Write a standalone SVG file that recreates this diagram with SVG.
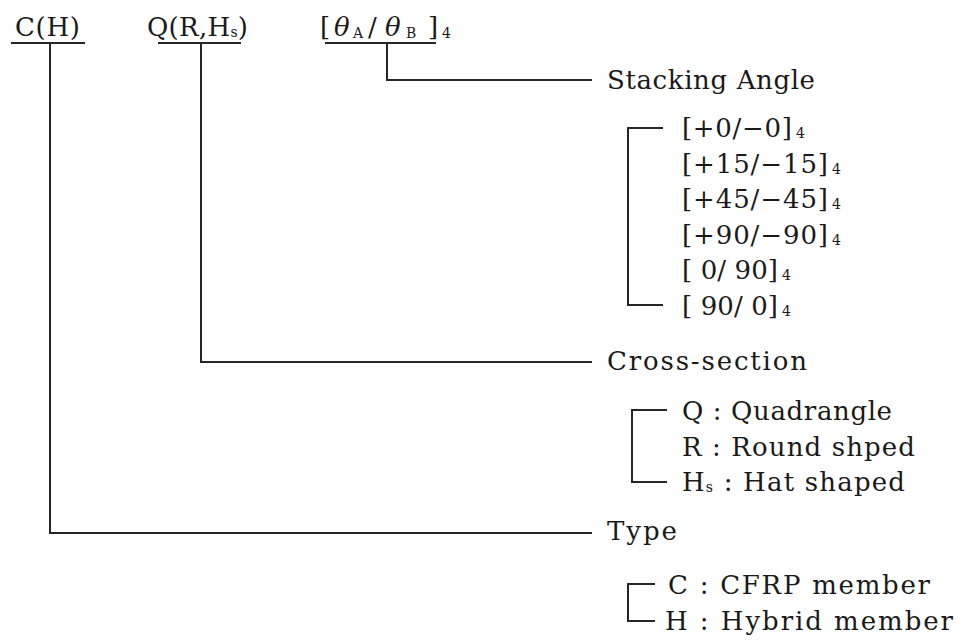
<svg xmlns="http://www.w3.org/2000/svg" width="958" height="643" viewBox="0 0 958 643">
<style>
text{font-family:"DejaVu Serif","Liberation Serif",serif;font-size:26px;fill:#1a1a1a}
.sub{font-size:14px}
.it{font-style:italic}
.ln{fill:none;stroke:#262626;stroke-width:2}
</style>
<rect width="958" height="643" fill="#ffffff"/>
<g id="connectors">
<path class="ln" d="M11 43H85M158 43H241M325 43H436"/>
<path class="ln" d="M387 43V80H592"/>
<path class="ln" d="M201 43V362H592"/>
<path class="ln" d="M50 43V533H592"/>
<path class="ln" d="M663 128H628V305H663"/>
<path class="ln" d="M667 410H632V482H667"/>
<path class="ln" d="M655 584H628V621H655"/>
</g>
<g id="code-type"><text x="15" y="36" textLength="65">C(H)</text></g>
<g id="code-section"><text x="147" y="36" textLength="101">Q(R,H<tspan class="sub" dy="1">s</tspan><tspan dy="-1">)</tspan></text></g>
<g id="code-angle"><text y="36"><tspan x="320">[</tspan><tspan x="334" class="it">θ</tspan><tspan x="353" class="sub" dy="2">A</tspan><tspan x="368" dy="-2">/</tspan><tspan x="385" class="it">θ</tspan><tspan x="406" class="sub" dy="2">B</tspan><tspan x="428" dy="-2">]</tspan><tspan x="442" class="sub" dy="2">4</tspan></text></g>
<g id="stacking-angle"><text x="607" y="89" textLength="208">Stacking Angle</text></g>
<g id="stacking-list">
<text x="682" y="137" textLength="110">[+0/−0]</text><text class="sub" x="796" y="138">4</text>
<text x="682" y="172.5" textLength="146">[+15/−15]</text><text class="sub" x="832" y="173.5">4</text>
<text x="682" y="208" textLength="146">[+45/−45]</text><text class="sub" x="832" y="209">4</text>
<text x="682" y="243.5" textLength="146">[+90/−90]</text><text class="sub" x="832" y="244.5">4</text>
<text x="682" y="279" textLength="96">[ 0/ 90]</text><text class="sub" x="782" y="280">4</text>
<text x="682" y="314.5" textLength="96">[ 90/ 0]</text><text class="sub" x="782" y="315.5">4</text>
</g>
<g id="cross-section"><text x="607" y="370" textLength="200">Cross-section</text></g>
<g id="section-list">
<text x="682" y="420" textLength="210">Q : Quadrangle</text>
<text x="682" y="456" textLength="233">R : Round shped</text>
<text x="682" y="491" textLength="223">H<tspan class="sub" dy="1">s</tspan><tspan dy="-1"> : Hat shaped</tspan></text>
</g>
<g id="type"><text x="607" y="540" textLength="70">Type</text></g>
<g id="type-list">
<text x="668" y="594" textLength="262">C : CFRP member</text>
<text x="665" y="630" textLength="288">H : Hybrid member</text>
</g>
</svg>
